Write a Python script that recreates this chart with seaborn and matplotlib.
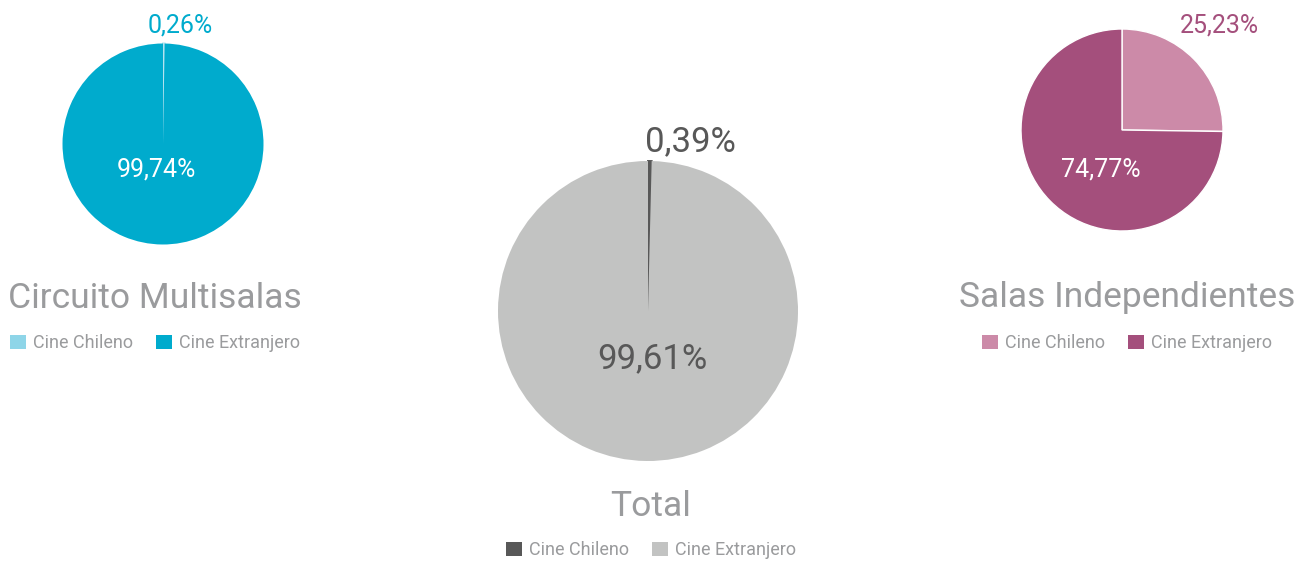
import matplotlib
matplotlib.use("Agg")
import matplotlib.pyplot as plt
import seaborn as sns

sns.set_theme(style="white")
plt.rcParams['font.family'] = ['Roboto', 'DejaVu Sans']

# ---- data ----
categories = ["Cine Chileno", "Cine Extranjero"]
multisalas = [0.26, 99.74]
total = [0.39, 99.61]
independientes = [25.23, 74.77]
titles = ["Circuito Multisalas", "Total", "Salas Independientes"]
small_labels = ["0,26%", "0,39%", "25,23%"]
big_labels = ["99,74%", "99,61%", "74,77%"]

colors_multi = ["#8ED5E8", "#00ABCD"]
colors_total = ["#585858", "#C2C3C2"]
colors_indep = ["#CC8AA8", "#A44F7C"]

W, H = 1302, 561
fig = plt.figure(figsize=(W / 100, H / 100), dpi=100)
fig.patch.set_facecolor("white")

def fx(x):
    return x / W

def fy(y):
    return 1 - y / H

title_color = "#9A9B9D"

def make_pie(cx, cy, r, values, colors, edges, lws):
    ax = fig.add_axes([fx(cx - r), fy(cy + r), 2 * r / W, 2 * r / H])
    wedges, _ = ax.pie(values, colors=colors, startangle=90, counterclock=False,
                       radius=1)
    for w, ec, lw in zip(wedges, edges, lws):
        w.set_edgecolor(ec)
        w.set_linewidth(lw)
    ax.set_xlim(-1.0, 1.0)
    ax.set_ylim(-1.0, 1.0)
    ax.set_axis_off()
    return ax, wedges

# left pie
ax1, w1 = make_pie(163, 144, 100.5, multisalas, colors_multi, ["#B5E3EF", "none"], [1.4, 0])
# center pie
ax2, w2 = make_pie(648, 311, 150, total, colors_total, ["#585858", "none"], [1.4, 0])
# right pie
ax3, w3 = make_pie(1122, 130, 101, independientes, colors_indep, ["white", "white"], [1.0, 1.0])

# percentage labels
fig.text(fx(180), fy(25), small_labels[0], color="#00ABCD", fontsize=18, ha="center", va="center")
fig.text(fx(156), fy(170), big_labels[0], color="white", fontsize=18, ha="center", va="center")
fig.text(fx(690), fy(142), small_labels[1], color="#585858", fontsize=25, ha="center", va="center")
fig.text(fx(652), fy(359), big_labels[1], color="#585858", fontsize=25, ha="center", va="center")
fig.text(fx(1219), fy(25), small_labels[2], color="#A44F7C", fontsize=18, ha="center", va="center")
fig.text(fx(1101), fy(170), big_labels[2], color="white", fontsize=18, ha="center", va="center")

# titles
fig.text(fx(155), fy(299), titles[0], color=title_color, fontsize=25.5, ha="center", va="center")
fig.text(fx(651), fy(506), titles[1], color=title_color, fontsize=25.5, ha="center", va="center")
fig.text(fx(1127), fy(298), titles[2], color=title_color, fontsize=25.5, ha="center", va="center")

# legends
def add_legend(ax, wedges, cx, cy):
    leg = ax.legend(wedges, categories, ncol=2, loc="center",
                    bbox_to_anchor=(fx(cx), fy(cy)), bbox_transform=fig.transFigure,
                    frameon=False, fontsize=13, handlelength=0.85, handleheight=0.85,
                    handletextpad=0.4, columnspacing=1.3, borderpad=0, borderaxespad=0)
    for t in leg.get_texts():
        t.set_color(title_color)
    for h in leg.legend_handles:
        h.set_edgecolor("none")
        h.set_linewidth(0)
    return leg

add_legend(ax1, w1, 155, 343)
add_legend(ax2, w2, 651, 550)
add_legend(ax3, w3, 1127, 343)

fig.savefig("out.png", dpi=100, facecolor="white")
